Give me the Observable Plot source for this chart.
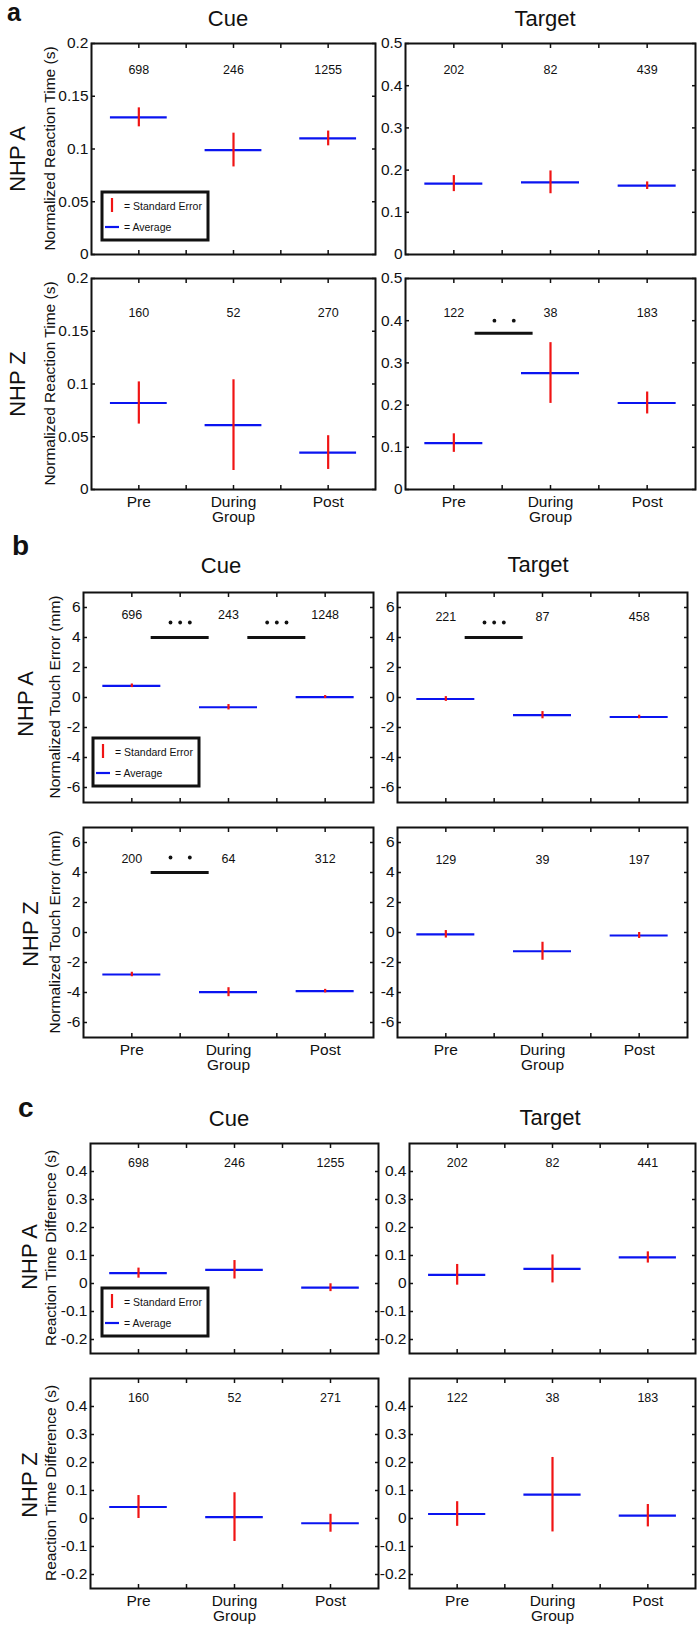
<!DOCTYPE html>
<html><head><meta charset="utf-8">
<script src="https://cdn.jsdelivr.net/npm/d3@7"></script>
<script src="https://cdn.jsdelivr.net/npm/@observablehq/plot@0.6"></script>
<style>
body{margin:0;background:#fff;}
#fig{position:relative;width:700px;height:1626px;font-family:"Liberation Sans",Arial,sans-serif;}
#fig svg{position:absolute;overflow:visible;}
</style></head><body><div id="fig"></div>
<script>
// ---------- data ----------
const groupPos = [1, 2, 3];
const groupLabels = ["Pre", "During\nGroup", "Post"];
const xTicks = [1, 1.5, 2, 2.5, 3];

// a: Normalized Reaction Time (s)
const aCueA_mean = [0.130, 0.099, 0.110];
const aCueA_se   = [0.009, 0.016, 0.007];
const aCueA_n    = [698, 246, 1255];
const aTgtA_mean = [0.168, 0.171, 0.163];
const aTgtA_se   = [0.019, 0.027, 0.009];
const aTgtA_n    = [202, 82, 439];
const aCueZ_mean = [0.082, 0.061, 0.035];
const aCueZ_se   = [0.020, 0.043, 0.016];
const aCueZ_n    = [160, 52, 270];
const aTgtZ_mean = [0.110, 0.276, 0.205];
const aTgtZ_se   = [0.022, 0.072, 0.026];
const aTgtZ_n    = [122, 38, 183];
const aCueTicks = [0, 0.05, 0.1, 0.15, 0.2];
const aTgtTicks = [0, 0.1, 0.2, 0.3, 0.4, 0.5];

// b: Normalized Touch Error (mm)
const bCueA_mean = [0.78, -0.65, 0.03];
const bCueA_se   = [0.12, 0.18, 0.10];
const bCueA_n    = [696, 243, 1248];
const bTgtA_mean = [-0.10, -1.18, -1.30];
const bTgtA_se   = [0.16, 0.24, 0.12];
const bTgtA_n    = [221, 87, 458];
const bCueZ_mean = [-2.80, -3.98, -3.91];
const bCueZ_se   = [0.15, 0.30, 0.12];
const bCueZ_n    = [200, 64, 312];
const bTgtZ_mean = [-0.12, -1.25, -0.20];
const bTgtZ_se   = [0.25, 0.60, 0.20];
const bTgtZ_n    = [129, 39, 197];
const bTicks = [-6, -4, -2, 0, 2, 4, 6];

// c: Reaction Time Difference (s)
const cCueA_mean = [0.037, 0.049, -0.015];
const cCueA_se   = [0.018, 0.033, 0.014];
const cCueA_n    = [698, 246, 1255];
const cTgtA_mean = [0.031, 0.052, 0.093];
const cTgtA_se   = [0.037, 0.050, 0.020];
const cTgtA_n    = [202, 82, 441];
const cCueZ_mean = [0.041, 0.005, -0.017];
const cCueZ_se   = [0.041, 0.087, 0.032];
const cCueZ_n    = [160, 52, 271];
const cTgtZ_mean = [0.016, 0.085, 0.010];
const cTgtZ_se   = [0.044, 0.133, 0.040];
const cTgtZ_n    = [122, 38, 183];
const cTicks = [-0.2, -0.1, 0, 0.1, 0.2, 0.3, 0.4];

// significance bars (from, to, level; dots positions and level)
const aTgtZ_sig = [{from: 1.22, to: 1.82, at: 0.37, dots: [1.42, 1.62], dotsAt: 0.40}];
const bCueA_sig = [{from: 1.2, to: 1.8, at: 4, dots: [1.4, 1.5, 1.6], dotsAt: 5},
                   {from: 2.2, to: 2.8, at: 4, dots: [2.4, 2.5, 2.6], dotsAt: 5}];
const bTgtA_sig = [{from: 1.2, to: 1.8, at: 4, dots: [1.4, 1.5, 1.6], dotsAt: 5}];
const bCueZ_sig = [{from: 1.2, to: 1.8, at: 4, dots: [1.4, 1.6], dotsAt: 5}];

// ---------- layout ----------
const FONT = '"Liberation Sans", Arial, Helvetica, sans-serif';
const panels = [
  {mean: aCueA_mean, se: aCueA_se, n: aCueA_n, yd: [0, 0.2], yt: aCueTicks, L: 91, T: 43, W: 284, H: 211, nDy: 22, xlab: false},
  {mean: aTgtA_mean, se: aTgtA_se, n: aTgtA_n, yd: [0, 0.5], yt: aTgtTicks, L: 405, T: 43, W: 290, H: 211, nDy: 22, xlab: false},
  {mean: aCueZ_mean, se: aCueZ_se, n: aCueZ_n, yd: [0, 0.2], yt: aCueTicks, L: 91, T: 278, W: 284, H: 211, nDy: 30, xlab: true},
  {mean: aTgtZ_mean, se: aTgtZ_se, n: aTgtZ_n, yd: [0, 0.5], yt: aTgtTicks, L: 405, T: 278, W: 290, H: 211, nDy: 30, xlab: true, sig: aTgtZ_sig},
  {mean: bCueA_mean, se: bCueA_se, n: bCueA_n, yd: [-7, 7], yt: bTicks, L: 83, T: 592, W: 290, H: 210, nDy: 18, xlab: false, sig: bCueA_sig},
  {mean: bTgtA_mean, se: bTgtA_se, n: bTgtA_n, yd: [-7, 7], yt: bTicks, L: 397, T: 592, W: 290, H: 210, nDy: 20, xlab: false, sig: bTgtA_sig},
  {mean: bCueZ_mean, se: bCueZ_se, n: bCueZ_n, yd: [-7, 7], yt: bTicks, L: 83, T: 827, W: 290, H: 210, nDy: 27, xlab: true, sig: bCueZ_sig},
  {mean: bTgtZ_mean, se: bTgtZ_se, n: bTgtZ_n, yd: [-7, 7], yt: bTicks, L: 397, T: 827, W: 290, H: 210, nDy: 28, xlab: true},
  {mean: cCueA_mean, se: cCueA_se, n: cCueA_n, yd: [-0.25, 0.5], yt: cTicks, L: 90, T: 1143, W: 288, H: 210, nDy: 15, xlab: false},
  {mean: cTgtA_mean, se: cTgtA_se, n: cTgtA_n, yd: [-0.25, 0.5], yt: cTicks, L: 409, T: 1143, W: 286, H: 210, nDy: 15, xlab: false},
  {mean: cCueZ_mean, se: cCueZ_se, n: cCueZ_n, yd: [-0.25, 0.5], yt: cTicks, L: 90, T: 1378, W: 288, H: 210, nDy: 15, xlab: true},
  {mean: cTgtZ_mean, se: cTgtZ_se, n: cTgtZ_n, yd: [-0.25, 0.5], yt: cTicks, L: 409, T: 1378, W: 286, H: 210, nDy: 15, xlab: true}
];

const fig = document.getElementById("fig");
const mL = 48, mR = 12, mT = 12, mB = 48;
const halfW = 0.3;

for (const p of panels) {
  const data = p.mean.map((m, i) => ({x: groupPos[i], mean: m, se: p.se[i], n: p.n[i]}));
  const marks = [
    Plot.ruleY(data, {y: "mean", x1: d => d.x - halfW, x2: d => d.x + halfW, stroke: "#0a14f0", strokeWidth: 2.2}),
    Plot.ruleX(data, {x: "x", y1: d => d.mean - d.se, y2: d => d.mean + d.se, stroke: "#f01414", strokeWidth: 2.2}),
    Plot.text(data, {x: "x", text: d => String(d.n), frameAnchor: "top", dy: p.nDy, fontSize: 12.5, fill: "#111"}),
    Plot.frame({stroke: "#111", strokeWidth: 2}),
    Plot.axisX({anchor: "bottom", ticks: xTicks, tickSize: -4, tickPadding: 10, strokeWidth: 1.5,
      tickFormat: d => (p.xlab ? (groupPos.includes(d) ? groupLabels[groupPos.indexOf(d)] : "") : ""), label: null}),
    Plot.axisX({anchor: "top", ticks: xTicks, tickSize: -4, strokeWidth: 1.5, tickFormat: () => "", label: null}),
    Plot.axisY({anchor: "left", ticks: p.yt, tickSize: -4, tickPadding: 7, strokeWidth: 1.5, tickFormat: d => String(d), label: null}),
    Plot.axisY({anchor: "right", ticks: p.yt, tickSize: -4, strokeWidth: 1.5, tickFormat: () => "", label: null})
  ];
  if (p.sig) {
    marks.push(Plot.ruleY(p.sig, {y: "at", x1: "from", x2: "to", stroke: "#111", strokeWidth: 3}));
    const dots = p.sig.flatMap(s => s.dots.map(x => ({x, y: s.dotsAt})));
    marks.push(Plot.dot(dots, {x: "x", y: "y", r: 1.9, fill: "#111", stroke: "none"}));
  }
  const svg = Plot.plot({
    width: p.W + mL + mR,
    height: p.H + mT + mB,
    marginLeft: mL, marginRight: mR, marginTop: mT, marginBottom: mB,
    x: {domain: [0.5, 3.5], axis: null},
    y: {domain: p.yd, axis: null},
    style: {fontSize: "15.5px", fontFamily: FONT, background: "transparent", overflow: "visible", color: "#111"},
    marks
  });
  svg.style.position = "absolute";
  svg.style.left = (p.L - mL) + "px";
  svg.style.top = (p.T - mT) + "px";
  svg.style.maxWidth = "none";
  fig.appendChild(svg);
}

// ---------- overlay: titles, labels, legends ----------
const ov = d3.select(fig).append("svg")
  .attr("width", 700).attr("height", 1626)
  .style("left", "0px").style("top", "0px")
  .attr("font-family", FONT).attr("fill", "#111");

const letters = [{t: "a", x: 7, y: 21, s: 25}, {t: "b", x: 12, y: 555, s: 28}, {t: "c", x: 18, y: 1117, s: 28}];
ov.selectAll("text.letter").data(letters).join("text").attr("class", "letter")
  .attr("x", d => d.x).attr("y", d => d.y).attr("font-size", d => d.s).attr("font-weight", "bold").text(d => d.t);

const titles = [
  {t: "Cue", x: 228, y: 26}, {t: "Target", x: 545, y: 26},
  {t: "Cue", x: 221, y: 573}, {t: "Target", x: 538, y: 572},
  {t: "Cue", x: 229, y: 1126}, {t: "Target", x: 550, y: 1125}
];
ov.selectAll("text.title").data(titles).join("text").attr("class", "title")
  .attr("x", d => d.x).attr("y", d => d.y).attr("font-size", 22).attr("text-anchor", "middle").text(d => d.t);

const rowLabels = [
  {t: "NHP A", x: 25, y: 159}, {t: "NHP Z", x: 25, y: 384},
  {t: "NHP A", x: 33, y: 704}, {t: "NHP Z", x: 38, y: 934},
  {t: "NHP A", x: 37, y: 1257}, {t: "NHP Z", x: 37, y: 1485}
];
ov.selectAll("text.row").data(rowLabels).join("text").attr("class", "row")
  .attr("transform", d => `translate(${d.x},${d.y}) rotate(-90)`)
  .attr("font-size", 22).attr("text-anchor", "middle").text(d => d.t);

const yLabels = [
  {t: "Normalized Reaction Time (s)", x: 55, y: 148.5},
  {t: "Normalized Reaction Time (s)", x: 55, y: 383.5},
  {t: "Normalized Touch Error (mm)", x: 60, y: 697},
  {t: "Normalized Touch Error (mm)", x: 60, y: 932},
  {t: "Reaction Time Difference (s)", x: 56, y: 1248},
  {t: "Reaction Time Difference (s)", x: 56, y: 1483}
];
ov.selectAll("text.ylab").data(yLabels).join("text").attr("class", "ylab")
  .attr("transform", d => `translate(${d.x},${d.y}) rotate(-90)`)
  .attr("font-size", 15.5).attr("text-anchor", "middle").text(d => d.t);

const legends = [{x: 102, y: 192}, {x: 93, y: 738}, {x: 102, y: 1288}];
for (const lg of legends) {
  const g = ov.append("g").attr("transform", `translate(${lg.x},${lg.y})`);
  g.append("rect").attr("x", 0).attr("y", 0).attr("width", 106).attr("height", 48)
    .attr("fill", "white").attr("stroke", "#111").attr("stroke-width", 3);
  g.append("line").attr("x1", 10).attr("x2", 10).attr("y1", 6).attr("y2", 20).attr("stroke", "#f01414").attr("stroke-width", 2.2);
  g.append("text").attr("x", 22).attr("y", 14).attr("dy", "0.35em").attr("font-size", 10.5).text("= Standard Error");
  g.append("line").attr("x1", 3).attr("x2", 17).attr("y1", 35).attr("y2", 35).attr("stroke", "#0a14f0").attr("stroke-width", 2.2);
  g.append("text").attr("x", 22).attr("y", 35).attr("dy", "0.35em").attr("font-size", 10.5).text("= Average");
}
</script></body></html>
